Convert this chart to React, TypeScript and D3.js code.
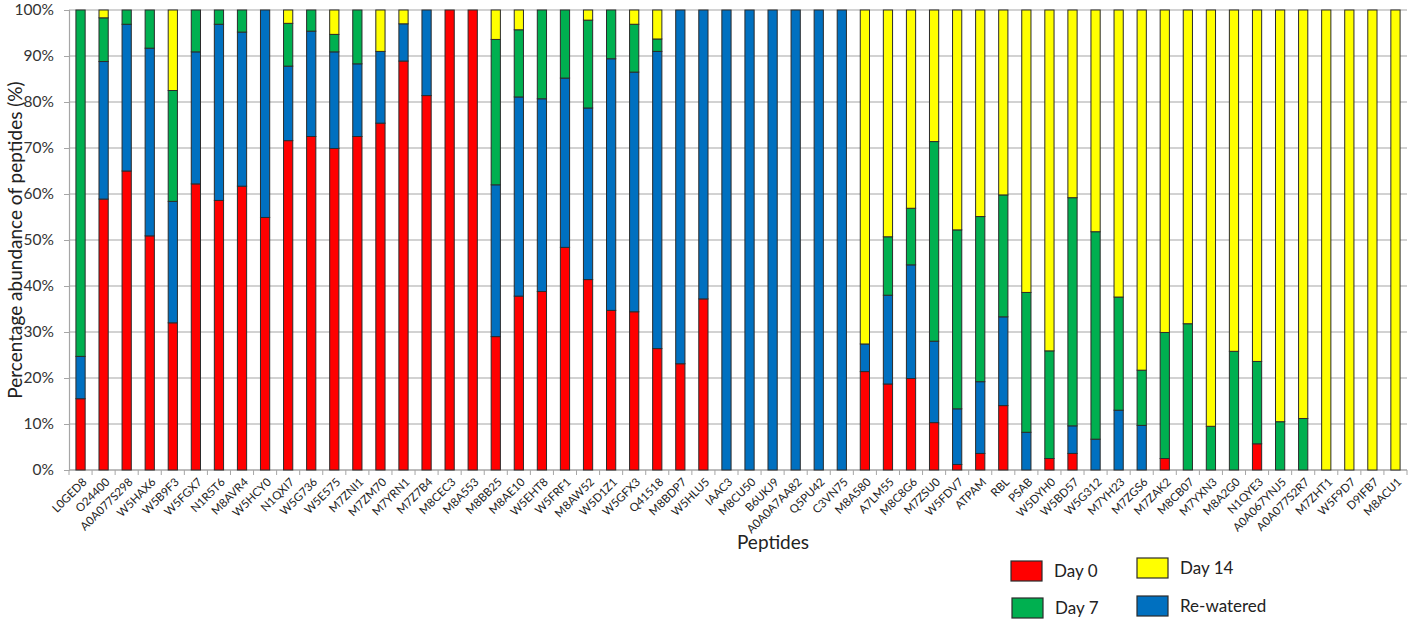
import { useEffect, useRef } from "react";
import * as d3 from "d3";

const peptides = [
  "L0GED8", "O24400", "A0A077S298", "W5HAX6", "W5B9F3", "W5FGX7", "N1R5T6", "M8AVR4", "W5HCY0", "N1QXI7",
  "W5G736", "W5E575", "M7ZNI1", "M7ZM70", "M7YRN1", "M7Z7B4", "M8CEC3", "M8A553", "M8BB25", "M8AE10",
  "W5EHT8", "W5FRF1", "M8AW52", "W5D1Z1", "W5GFX3", "Q41518", "M8BDP7", "W5HLU5", "IAAC3", "M8CU50",
  "B6UKJ9", "A0A0A7AA82", "Q5PU42", "C3VN75", "M8A580", "A7LM55", "M8C8G6", "M7ZSU0", "W5FDV7", "ATPAM",
  "RBL", "PSAB", "W5DYH0", "W5BD57", "W5G312", "M7YH23", "M7ZGS6", "M7ZAK2", "M8CB07", "M7YXN3",
  "M8A2G0", "N1QYE3", "A0A067YNJ5", "A0A077S2R7", "M7ZHT1", "W5F9D7", "D9IFB7", "M8ACU1",
];

// % abundance per peptide, stacked bottom to top: Day 0, Re-watered, Day 7, Day 14
const day0 = [
  15.5, 58.9, 65.0, 50.9, 32.0, 62.2, 58.6, 61.7, 54.9, 71.6,
  72.5, 69.9, 72.5, 75.4, 88.9, 81.4, 100, 100, 29.0, 37.8,
  38.8, 48.4, 41.4, 34.7, 34.4, 26.4, 23.1, 37.2, 0, 0,
  0, 0, 0, 0, 21.4, 18.7, 19.9, 10.3, 1.2, 3.6,
  14.0, 0, 2.5, 3.6, 0, 0, 0, 2.5, 0, 0,
  0, 5.7, 0, 0, 0, 0, 0, 0,
];
const rewatered = [
  9.2, 29.9, 31.9, 40.8, 26.4, 28.7, 38.3, 33.5, 45.1, 16.2,
  22.9, 21.0, 15.8, 15.6, 8.1, 18.6, 0, 0, 33.0, 43.3,
  41.9, 36.8, 37.3, 54.7, 52.1, 64.6, 76.9, 62.8, 100, 100,
  100, 100, 100, 100, 6.0, 19.3, 24.7, 17.7, 12.1, 15.6,
  19.3, 8.2, 0, 6.0, 6.7, 13.0, 9.7, 0, 0, 0,
  0, 0, 0, 0, 0, 0, 0, 0,
];
const day7 = [
  75.3, 9.5, 3.1, 8.3, 24.1, 9.1, 3.1, 4.8, 0, 9.3,
  4.6, 3.8, 11.7, 0, 0, 0, 0, 0, 31.6, 14.6,
  19.3, 14.8, 19.1, 10.6, 10.4, 2.7, 0, 0, 0, 0,
  0, 0, 0, 0, 0, 12.7, 12.3, 43.4, 38.9, 35.9,
  26.5, 30.4, 23.4, 49.6, 45.1, 24.6, 12.0, 27.4, 31.8, 9.5,
  25.8, 17.9, 10.5, 11.2, 0, 0, 0, 0,
];
const day14 = [
  0, 1.7, 0, 0, 17.5, 0, 0, 0, 0, 2.9,
  0, 5.3, 0, 9.0, 3.0, 0, 0, 0, 6.4, 4.3,
  0, 0, 2.2, 0, 3.1, 6.3, 0, 0, 0, 0,
  0, 0, 0, 0, 72.6, 49.3, 43.1, 28.6, 47.8, 44.9,
  40.2, 61.4, 74.1, 40.8, 48.2, 62.4, 78.3, 70.1, 68.2, 90.5,
  74.2, 76.4, 89.5, 88.8, 100, 100, 100, 100,
];

const seriesKeys = ["day0", "rewatered", "day7", "day14"];
const seriesNames = ["Day 0", "Re-watered", "Day 7", "Day 14"];
const seriesColors = ["#ff0000", "#0070c0", "#00b050", "#ffff00"];
const yTicks = [0, 10, 20, 30, 40, 50, 60, 70, 80, 90, 100];

const W = 1417;
const H = 624;
const FONT = "Lato, 'Open Sans', sans-serif";

function App() {
  const svgRef = useRef<SVGSVGElement | null>(null);

  useEffect(() => {
    const svg = d3.select(svgRef.current!);
    svg.selectAll("*").remove();

    const left = 69, right = 1407, top = 10, bottom = 470;

    const rows = peptides.map((p, i) => ({
      name: p,
      day0: day0[i],
      rewatered: rewatered[i],
      day7: day7[i],
      day14: day14[i],
    }));

    const x = d3.scaleBand().domain(peptides).range([left, right]).paddingInner(0.6).paddingOuter(0.3);
    const y = d3.scaleLinear().domain([0, 100]).range([bottom, top]);
    const color = d3.scaleOrdinal<string, string>().domain(seriesKeys).range(seriesColors);

    // gridlines
    svg.append("g")
      .selectAll("line")
      .data(yTicks)
      .join("line")
      .attr("x1", left)
      .attr("x2", right)
      .attr("y1", d => y(d))
      .attr("y2", d => y(d))
      .attr("stroke", "#a6a6a6")
      .attr("stroke-width", 1.2);

    // y axis
    const yAxis = svg.append("g")
      .attr("transform", `translate(${left},0)`)
      .call(d3.axisLeft(y).tickValues(yTicks).tickFormat(d => `${d}%`).tickSize(5).tickPadding(10));
    yAxis.select(".domain").attr("stroke", "#a6a6a6").attr("stroke-width", 1.2);
    yAxis.selectAll(".tick line").attr("stroke", "#a6a6a6");
    yAxis.selectAll("text")
      .attr("font-family", FONT)
      .attr("font-size", 15.5)
      .attr("fill", "#333");

    // bottom axis line + ticks at band boundaries
    const step = x.step();
    const bounds = d3.range(peptides.length + 1).map(i => left + i * step);
    svg.append("line")
      .attr("x1", left).attr("x2", right)
      .attr("y1", bottom).attr("y2", bottom)
      .attr("stroke", "#a6a6a6").attr("stroke-width", 1.2);
    svg.append("g")
      .selectAll("line")
      .data(bounds)
      .join("line")
      .attr("x1", d => d).attr("x2", d => d)
      .attr("y1", bottom).attr("y2", bottom + 5)
      .attr("stroke", "#a6a6a6");

    // stacked bars
    const stacked = d3.stack<any>().keys(seriesKeys)(rows);
    svg.append("g")
      .selectAll("g")
      .data(stacked)
      .join("g")
      .attr("fill", d => color(d.key))
      .selectAll("rect")
      .data(d => d.filter(s => s[1] - s[0] > 0))
      .join("rect")
      .attr("x", d => x(d.data.name)!)
      .attr("width", x.bandwidth())
      .attr("y", d => y(d[1]))
      .attr("height", d => y(d[0]) - y(d[1]))
      .attr("stroke", "#2b2b2b")
      .attr("stroke-width", 1);

    // x labels
    svg.append("g")
      .selectAll("text")
      .data(peptides)
      .join("text")
      .attr("transform", d => `translate(${x(d)! + x.bandwidth() / 2 + 4},${bottom + 10}) rotate(-45)`)
      .attr("text-anchor", "end")
      .attr("dy", "0.35em")
      .attr("font-family", FONT)
      .attr("font-size", 11.5)
      .attr("fill", "#222")
      .text(d => d);

    // axis titles
    svg.append("text")
      .attr("x", 773)
      .attr("y", 549)
      .attr("text-anchor", "middle")
      .attr("font-family", FONT)
      .attr("font-size", 19)
      .attr("fill", "#222")
      .text("Peptides");
    svg.append("text")
      .attr("transform", `translate(22,${(top + bottom) / 2}) rotate(-90)`)
      .attr("text-anchor", "middle")
      .attr("font-family", FONT)
      .attr("font-size", 19)
      .attr("fill", "#222")
      .text("Percentage abundance of peptides (%)");

    // legend
    const legendItems = [
      { key: "day0", x: 1011, y: 561 },
      { key: "day7", x: 1012, y: 598 },
      { key: "day14", x: 1137, y: 558 },
      { key: "rewatered", x: 1137, y: 596 },
    ];
    const lg = svg.append("g")
      .selectAll("g")
      .data(legendItems)
      .join("g")
      .attr("transform", d => `translate(${d.x},${d.y})`);
    lg.append("rect")
      .attr("width", 31)
      .attr("height", 20)
      .attr("fill", d => color(d.key))
      .attr("stroke", "#2b2b2b")
      .attr("stroke-width", 1.2);
    lg.append("text")
      .attr("x", 43)
      .attr("y", 10)
      .attr("dy", "0.35em")
      .attr("font-family", FONT)
      .attr("font-size", 17)
      .attr("fill", "#222")
      .text(d => seriesNames[seriesKeys.indexOf(d.key)]);
  }, []);

  return (
    <svg
      ref={svgRef}
      width={W}
      height={H}
      style={{ position: "absolute", left: 0, top: 0, background: "#fff" }}
    />
  );
}

export default App;
